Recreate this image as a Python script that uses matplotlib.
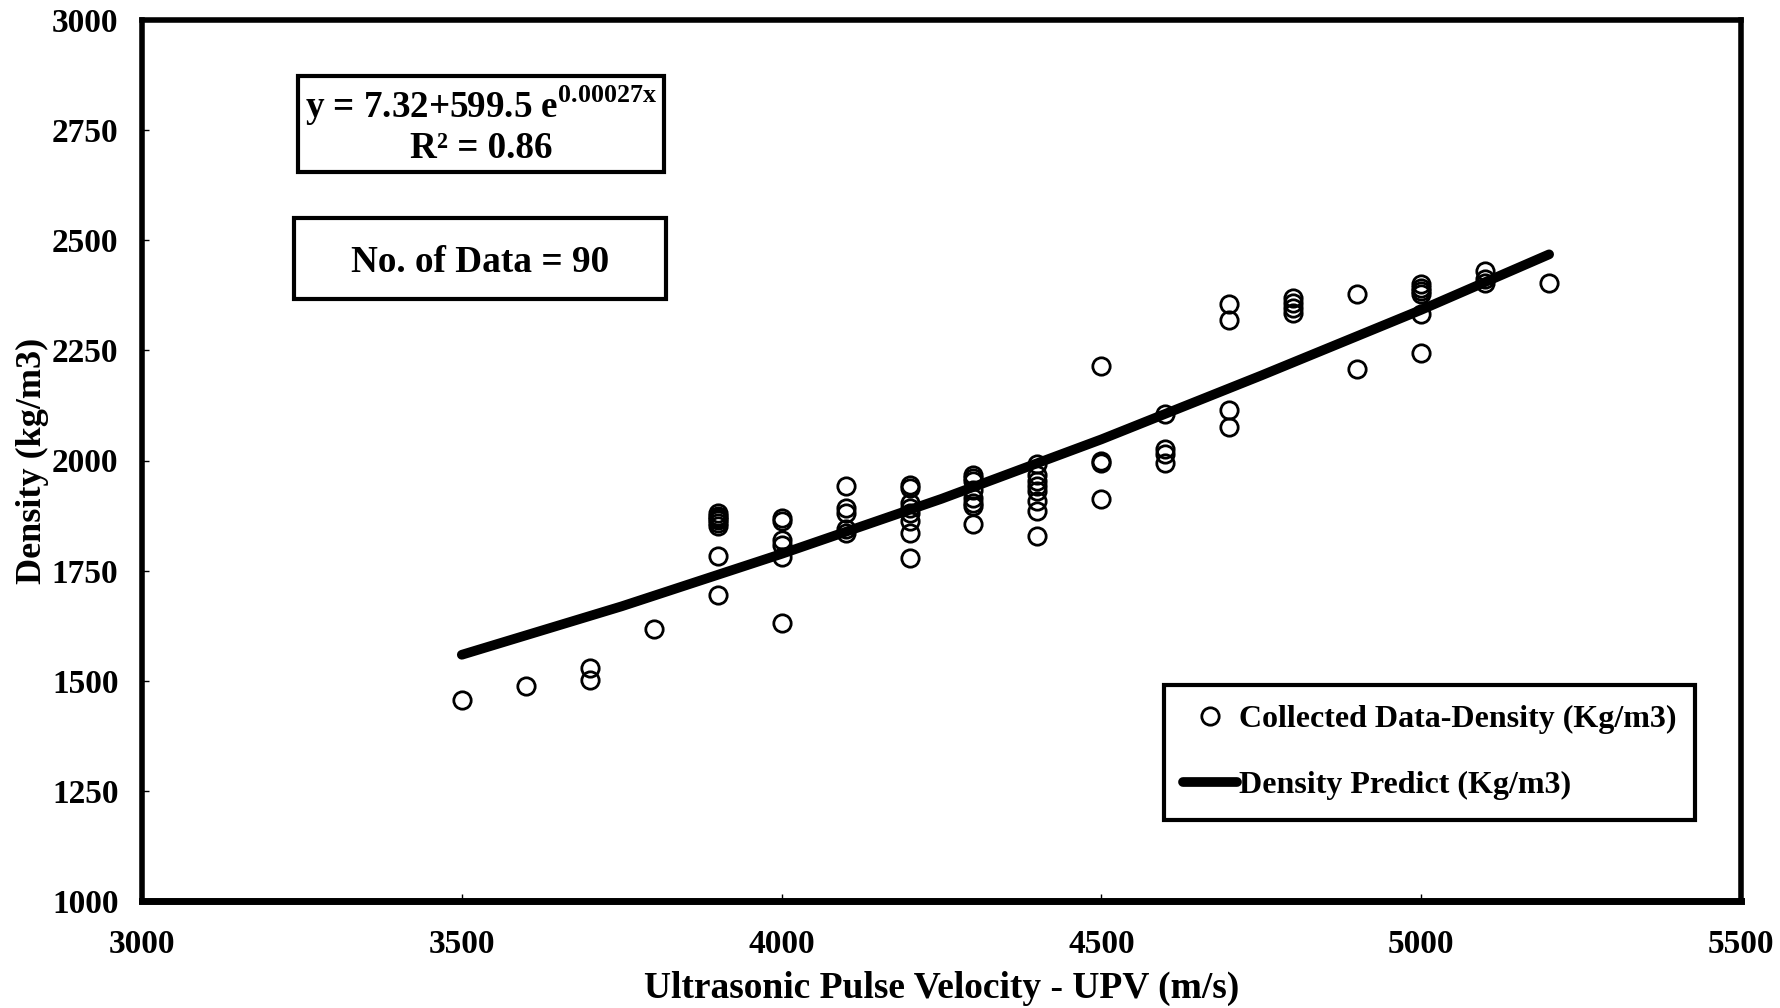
import numpy as np
import matplotlib
matplotlib.use("Agg")
import matplotlib.pyplot as plt
from matplotlib.patches import Rectangle

upv = [3500, 3600, 3700, 3700, 3800,
       3900, 3900, 3900, 3900, 3900, 3900, 3900, 3900,
       4000, 4000, 4000, 4000, 4000, 4000,
       4100, 4100, 4100, 4100, 4100,
       4200, 4200, 4200, 4200, 4200, 4200, 4200, 4200,
       4300, 4300, 4300, 4300, 4300, 4300, 4300, 4300,
       4400, 4400, 4400, 4400, 4400, 4400, 4400, 4400,
       4500, 4500, 4500, 4500,
       4600, 4600, 4600, 4600,
       4700, 4700, 4700, 4700,
       4800, 4800, 4800, 4800,
       4900, 4900,
       5000, 5000, 5000, 5000, 5000, 5000,
       5100, 5100, 5100,
       5200]
density = [1457, 1487, 1529, 1502, 1617,
           1880, 1875, 1870, 1865, 1858, 1852, 1784, 1695,
           1870, 1862, 1820, 1809, 1782, 1631,
           1942, 1892, 1880, 1845, 1835,
           1945, 1938, 1904, 1892, 1881, 1862, 1835, 1779,
           1968, 1961, 1953, 1934, 1915, 1904, 1896, 1855,
           1991, 1968, 1953, 1942, 1930, 1907, 1885, 1828,
           2214, 1998, 1995, 1913,
           2105, 2025, 2014, 1995,
           2355, 2320, 2114, 2076,
           2370, 2358, 2347, 2335,
           2377, 2208,
           2400, 2392, 2385, 2377, 2332, 2243,
           2430, 2411, 2404,
           2404]

# prediction curve
upv_fit = [3500, 3750, 4000, 4250, 4500, 4750, 5000, 5200]
density_fit = [1559, 1669, 1788, 1913, 2048, 2193, 2342, 2468]

eq_text = r"y = 7.32+599.5 $\mathrm{e}^{\mathrm{0.00027x}}$" + "\nR\u00b2 = 0.86"
n_text = "No. of Data = 90"

plt.rcParams['font.family'] = ['Liberation Serif', 'DejaVu Serif']
plt.rcParams['font.weight'] = 'bold'
plt.rcParams['mathtext.fontset'] = 'custom'
plt.rcParams['mathtext.rm'] = 'Liberation Serif:bold'
plt.rcParams['mathtext.bf'] = 'Liberation Serif:bold'

fig = plt.figure(figsize=(17.81, 10.08), dpi=100)
ax = fig.add_axes([142/1781, 107/1008, 1599/1781, 881/1008])

ax.plot(upv, density, 'o', ms=12.5, mfc='none', mec='black', mew=2.0,
        label='Collected Data-Density (Kg/m3)', zorder=2)
ax.plot(upv_fit, density_fit, '-', color='black', lw=7, solid_capstyle='round',
        label='Density Predict (Kg/m3)', zorder=3)

ax.set_xlim(3000, 5500)
ax.set_ylim(1000, 3000)
ax.set_xticks(np.arange(3000, 5501, 500))
ax.set_yticks(np.arange(1000, 3001, 250))
ax.tick_params(axis='x', direction='in', length=5, width=1, pad=20, labelsize=24)
ax.tick_params(axis='y', direction='in', length=5, width=1, pad=17, labelsize=24)
for s in ax.spines.values():
    s.set_linewidth(4)
ax.spines['bottom'].set_linewidth(5)

ax.set_xlabel('Ultrasonic Pulse Velocity - UPV (m/s)', fontsize=27, fontweight='bold')
ax.xaxis.set_label_coords(0.5, -(988 - 901) / 881)
ax.xaxis.label.set_va('center')
ax.set_ylabel('Density (kg/m3)', fontsize=26, fontweight='bold')
ax.yaxis.set_label_coords(-(142 - 32) / 1599, 0.5)
ax.yaxis.label.set_va('center')

# text boxes
ax.add_patch(Rectangle((0.0976, 0.8275), 0.2289, 0.1085, transform=ax.transAxes,
                       fill=False, ec='black', lw=3, zorder=4))
ax.text(0.212, 0.881, eq_text, transform=ax.transAxes, ha='center', va='center',
        fontsize=26.7, fontweight='bold', linespacing=1.1, zorder=5)
ax.add_patch(Rectangle((0.095, 0.683), 0.233, 0.092, transform=ax.transAxes,
                       fill=False, ec='black', lw=3, zorder=4))
ax.text(0.2115, 0.725, n_text, transform=ax.transAxes, ha='center', va='center',
        fontsize=26.8, fontweight='bold', zorder=5)

leg = ax.legend(loc='upper left', bbox_to_anchor=(0.639, 0.245), fontsize=23,
                frameon=True, fancybox=False, framealpha=1, edgecolor='black',
                handlelength=1.7, handletextpad=0.05, labelspacing=1.17,
                borderpad=0.6, borderaxespad=0)
leg.get_frame().set_linewidth(3)

fig.savefig('out.png', dpi=100)
